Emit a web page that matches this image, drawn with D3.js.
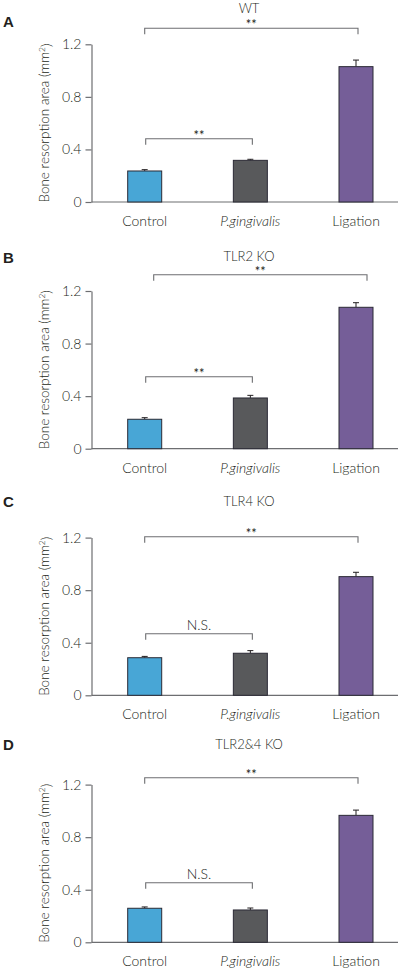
<!DOCTYPE html>
<html>
<head>
<meta charset="utf-8">
<script src="https://cdn.jsdelivr.net/npm/d3@7/dist/d3.min.js"></script>
<style>
  html, body { margin: 0; padding: 0; background: #fff; }
  svg { display: block; }
  text { font-family: Lato, "Open Sans", sans-serif; font-weight: 300; fill: #231f20; }
</style>
</head>
<body>
<svg id="chart" width="400" height="971"></svg>
<script>
// ---------------- data ----------------
const categories = ["Control", "P.gingivalis", "Ligation"];
const panelLetters = ["A", "B", "C", "D"];
const panelTitles = ["WT", "TLR2 KO", "TLR4 KO", "TLR2&4 KO"];
const valuesWT     = [0.236, 0.317, 1.030];
const errorsWT     = [0.010, 0.008, 0.050];
const valuesTLR2   = [0.224, 0.386, 1.076];
const errorsTLR2   = [0.012, 0.020, 0.035];
const valuesTLR4   = [0.286, 0.320, 0.903];
const errorsTLR4   = [0.010, 0.020, 0.033];
const valuesTLR24  = [0.259, 0.246, 0.966];
const errorsTLR24  = [0.010, 0.015, 0.040];
const yTicks = [0, 0.4, 0.8, 1.2];
const yTickLabels = ["0", "0.4", "0.8", "1.2"];
const sigLowLabels  = ["**", "**", "N.S.", "N.S."];
const sigHighLabels = ["**", "**", "**", "**"];
const yAxisTitle = "Bone resorption area (mm";

// ---------------- layout ----------------
const colors = ["#48a6d6", "#58595b", "#755e98"];
const allValues = [valuesWT, valuesTLR2, valuesTLR4, valuesTLR24];
const allErrors = [errorsWT, errorsTLR2, errorsTLR4, errorsTLR24];
const baselines = [202, 448.7, 695.3, 942.3];
const titleBaselines = [13.3, 260.5, 505.5, 748.5];
const letterBaselines = [26.5, 262.5, 507, 750];
const highBracketY = [28.3, 274.7, 536.7, 777.7];
const highBracketShift = [0, 9, 0, 0];
const lowBracketY = [138.7, 376.7, 633.7, 882.7];
const plotHeight = 157.7;
const axisX = 91.5;
const axisRight = 398;
const barW = 34;

const svg = d3.select("#chart");
const x = d3.scalePoint().domain(categories).range([144.7, 356]);

panelLetters.forEach((letter, p) => {
  const base = baselines[p];
  const y = d3.scaleLinear().domain([0, 1.2]).range([base, base - plotHeight]);
  const g = svg.append("g");

  // panel letter
  g.append("text").attr("x", 3).attr("y", letterBaselines[p])
    .style("font-family", "'Liberation Sans', Arial, sans-serif")
    .style("font-weight", "700").style("font-size", "15px")
    .text(letter);

  // title
  g.append("text").attr("x", 249).attr("y", titleBaselines[p])
    .attr("text-anchor", "middle").style("font-size", "13px")
    .text(panelTitles[p]);

  // y axis
  const yAxis = d3.axisLeft(y).tickValues(yTicks)
    .tickFormat((d, i) => yTickLabels[i]).tickSize(6).tickSizeOuter(0).tickPadding(4);
  const ya = g.append("g").attr("transform", `translate(${axisX},0)`).call(yAxis);
  ya.select(".domain").attr("stroke", "#6d6e71").attr("stroke-width", 1.2);
  ya.selectAll(".tick line").attr("stroke", "#6d6e71").attr("stroke-width", 1.2);
  ya.selectAll(".tick text").style("font-family", "Lato, sans-serif").style("font-weight", "300")
    .style("font-size", "14px").attr("fill", "#231f20");

  // x axis baseline
  g.append("line").attr("x1", axisX).attr("x2", axisRight)
    .attr("y1", base).attr("y2", base)
    .attr("stroke", "#6d6e71").attr("stroke-width", 1.2);

  // x labels
  g.selectAll(".xl").data(categories).enter().append("text")
    .attr("x", d => x(d)).attr("y", base + 24)
    .attr("text-anchor", "middle").style("font-size", "14px")
    .style("font-style", d => d === "P.gingivalis" ? "italic" : "normal")
    .text(d => d);

  // y axis title
  const yt = g.append("text")
    .attr("transform", `translate(49,${base - 79}) rotate(-90)`)
    .attr("text-anchor", "middle").style("font-size", "13.5px");
  yt.append("tspan").text(yAxisTitle);
  yt.append("tspan").attr("dy", "-0.45em").style("font-size", "8.5px").text("2");
  yt.append("tspan").attr("dy", "0.45em").text(")");

  const vals = allValues[p], errs = allErrors[p];

  // error bars (upper only)
  categories.forEach((c, i) => {
    const cx = x(c);
    g.append("line").attr("x1", cx).attr("x2", cx)
      .attr("y1", y(vals[i])).attr("y2", y(vals[i] + errs[i]))
      .attr("stroke", "#231f20").attr("stroke-width", 1);
    g.append("line").attr("x1", cx - 3).attr("x2", cx + 3)
      .attr("y1", y(vals[i] + errs[i])).attr("y2", y(vals[i] + errs[i]))
      .attr("stroke", "#231f20").attr("stroke-width", 1);
  });

  // bars
  g.selectAll(".bar").data(categories).enter().append("rect")
    .attr("x", d => x(d) - barW / 2)
    .attr("y", (d, i) => y(vals[i]))
    .attr("width", barW)
    .attr("height", (d, i) => base - y(vals[i]))
    .attr("fill", (d, i) => colors[i])
    .attr("stroke", "#2b2a35").attr("stroke-width", 1);

  // brackets
  const bracket = (x1, x2, yy, tick, label) => {
    g.append("path")
      .attr("d", `M${x1},${yy + tick}V${yy}H${x2}V${yy + tick}`)
      .attr("fill", "none").attr("stroke", "#6d6e71").attr("stroke-width", 1.1);
    const t = g.append("text").attr("x", (x1 + x2) / 2)
      .attr("text-anchor", "middle");
    if (label === "N.S.") {
      t.attr("y", yy - 4).style("font-size", "14px");
    } else {
      t.attr("y", yy + 1).style("font-size", "13px").style("font-weight", "400")
        .attr("fill", "#414042");
    }
    t.text(label);
  };
  const hs = highBracketShift[p];
  bracket(x(categories[0]) + hs, x(categories[2]) + 2 + hs, highBracketY[p], 6, sigHighLabels[p]);
  bracket(x(categories[0]) + 1, x(categories[1]) + 2, lowBracketY[p], 6, sigLowLabels[p]);
});
</script>
</body>
</html>
